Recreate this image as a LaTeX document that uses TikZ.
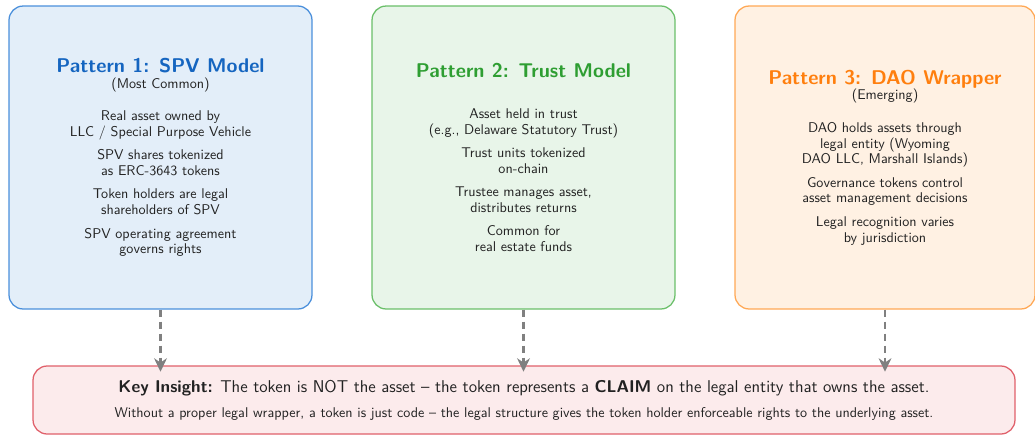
\documentclass[tikz,border=0pt]{standalone}
\usetikzlibrary{arrows.meta}

% palette
\definecolor{spvfill}{HTML}{E3EEF9}
\definecolor{spvline}{HTML}{4A8FDB}
\definecolor{spvtitle}{HTML}{1565C0}
\definecolor{trustfill}{HTML}{E8F5E9}
\definecolor{trustline}{HTML}{6ABF69}
\definecolor{trusttitle}{HTML}{2E9E32}
\definecolor{daofill}{HTML}{FFF1E3}
\definecolor{daoline}{HTML}{FFA855}
\definecolor{daotitle}{HTML}{FF7F0E}
\definecolor{keyfill}{HTML}{FCEBEC}
\definecolor{keyline}{HTML}{E0606A}
\definecolor{linkgray}{HTML}{808080}
\definecolor{ink}{HTML}{222222}

\newcommand{\boxtitle}[2]{{\color{#1}\fontsize{14.1}{15}\selectfont\bfseries #2}}

\begin{document}
\begin{tikzpicture}[x=0.709pt, y=-0.709pt,
  font=\sffamily\fontsize{10}{11.13}\selectfont,
  modelbox/.style={draw, rounded corners=10pt, line width=0.9pt,
    minimum width=214.8pt, minimum height=214.8pt,
    align=center, inner sep=0pt, text=ink},
  keybox/.style={draw=keyline, fill=keyfill, rounded corners=10pt, line width=0.9pt,
    minimum width=696.2pt, minimum height=48.2pt,
    align=center, inner sep=0pt, text=ink,
    font=\sffamily\fontsize{10}{17.5}\selectfont},
  link/.style={draw=linkgray, line width=1.6pt, dash pattern=on 5pt off 3.5pt,
    shorten >=-4.5pt, -{Stealth[length=9.5pt,width=9pt,inset=3pt]}}
]
\useasboundingbox (0,0) rectangle (1035,434);

% the three legal wrapper patterns
\node[modelbox, draw=spvline, fill=spvfill] (spv) at (160.5,157.5) {%
  \boxtitle{spvtitle}{Pattern 1: SPV Model}\\
  (Most Common)\\[11.9pt]
  Real asset owned by\\
  LLC / Special Purpose Vehicle\\[5.5pt]
  SPV shares tokenized\\
  as ERC-3643 tokens\\[5.5pt]
  Token holders are legal\\
  shareholders of SPV\\[5.5pt]
  SPV operating agreement\\
  governs rights};

\node[modelbox, draw=trustline, fill=trustfill] (trust) at (523.5,157.5) {%
  \boxtitle{trusttitle}{Pattern 2: Trust Model}\\[17.9pt]
  Asset held in trust\\
  (e.g., Delaware Statutory Trust)\\[5.5pt]
  Trust units tokenized\\
  on-chain\\[5.5pt]
  Trustee manages asset,\\
  distributes returns\\[5.5pt]
  Common for\\
  real estate funds};

\node[modelbox, draw=daoline, fill=daofill, minimum width=212.7pt] (dao) at (885,157.5) {%
  \boxtitle{daotitle}{Pattern 3: DAO Wrapper}\\
  (Emerging)\\[11.9pt]
  DAO holds assets through\\
  legal entity (Wyoming\\
  DAO LLC, Marshall Islands)\\[5.5pt]
  Governance tokens control\\
  asset management decisions\\[5.5pt]
  Legal recognition varies\\
  by jurisdiction};

% the common conclusion
\node[keybox] (key) at (524,400) {%
  {\fontsize{12.1}{17.5}\selectfont\textbf{Key Insight:} The token is NOT the asset -- the token represents a \textbf{CLAIM} on the legal entity that owns the asset.}\\
  Without a proper legal wrapper, a token is just code -- the legal structure gives the token holder enforceable rights to the underlying asset.};

% each pattern feeds the insight
\draw[link] (spv.south) -- (spv.south |- key.north);
\draw[link] (trust.south) -- (trust.south |- key.north);
\draw[link] (dao.south) -- (dao.south |- key.north);
\end{tikzpicture}
\end{document}
